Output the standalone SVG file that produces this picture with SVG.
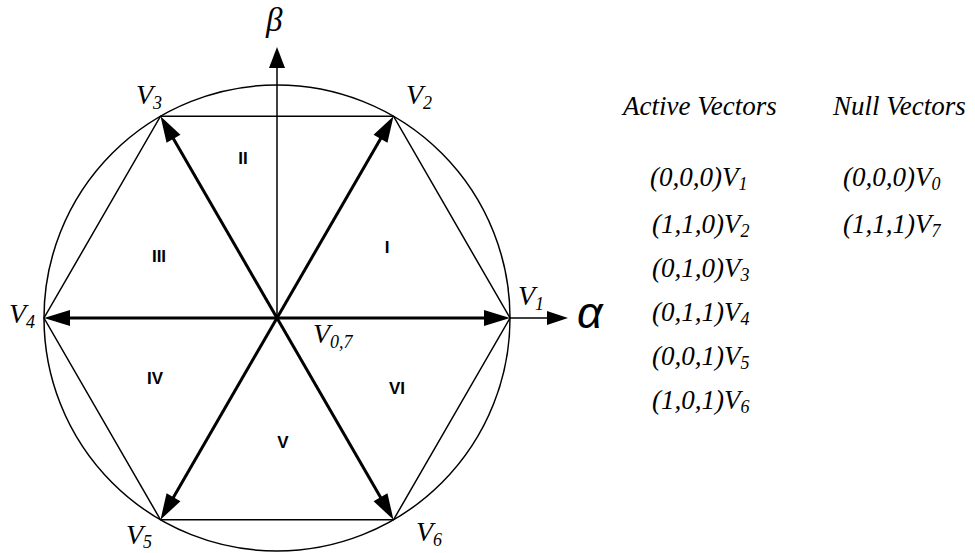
<svg xmlns="http://www.w3.org/2000/svg" width="975" height="553" viewBox="0 0 975 553">
<style>
.thin{fill:none;stroke:#000;stroke-width:1.5}
.bold{fill:none;stroke:#000;stroke-width:3;stroke-linecap:butt}
.vl{font-family:"Liberation Serif","Times New Roman",serif;font-style:italic;font-size:28px;fill:#000}
.tx{font-family:"Liberation Serif","Times New Roman",serif;font-style:italic;font-size:27px;fill:#000}
.sub{font-size:18px}
.rg{font-family:"Liberation Sans",Arial,sans-serif;font-weight:bold;font-size:17px;fill:#000;text-anchor:middle}
</style>
<defs>
<marker id="big" markerUnits="userSpaceOnUse" markerWidth="26" markerHeight="16" refX="16" refY="8" orient="auto" overflow="visible">
<path d="M0,0 L26,8 L0,16 z" fill="#000"/>
</marker>
<marker id="ax" markerUnits="userSpaceOnUse" markerWidth="21" markerHeight="16" refX="11" refY="8" orient="auto" overflow="visible">
<path d="M0,0 L21,8 L0,16 z" fill="#000"/>
</marker>
<marker id="axa" markerUnits="userSpaceOnUse" markerWidth="21" markerHeight="14" refX="11" refY="7" orient="auto" overflow="visible">
<path d="M0,0 L21,7 L0,14 z" fill="#000"/>
</marker>
</defs>
<rect width="975" height="553" fill="#fff"/>
<g id="circle"><circle class="thin" cx="277" cy="318" r="233"/></g>
<g id="hexagon"><polygon class="thin" points="510,318 393.5,116.2 160.5,116.2 44,318 160.5,519.8 393.5,519.8"/></g>
<g id="connectors">
<line class="thin" x1="277" y1="318" x2="277" y2="57" marker-end="url(#ax)"/>
<line class="thin" x1="510" y1="318" x2="558" y2="318" marker-end="url(#axa)"/>
<line class="bold" x1="277" y1="318" x2="500" y2="318" marker-end="url(#big)"/>
<line class="bold" x1="277" y1="318" x2="54" y2="318" marker-end="url(#big)"/>
<line class="bold" x1="277" y1="318" x2="388.5" y2="124.9" marker-end="url(#big)"/>
<line class="bold" x1="277" y1="318" x2="165.5" y2="124.9" marker-end="url(#big)"/>
<line class="bold" x1="277" y1="318" x2="165.5" y2="511.1" marker-end="url(#big)"/>
<line class="bold" x1="277" y1="318" x2="388.5" y2="511.1" marker-end="url(#big)"/>
</g>
<g id="axis-labels">
<text x="266" y="31" font-family="Liberation Serif,serif" font-style="italic" font-size="33">β</text>
<text x="577" y="328" font-family="Liberation Sans,sans-serif" font-style="italic" font-size="45">α</text>
</g>
<g id="vertex-labels">
<text class="vl" x="136" y="104">V<tspan class="sub" dy="5">3</tspan></text>
<text class="vl" x="406" y="104">V<tspan class="sub" dy="5">2</tspan></text>
<text class="vl" x="9" y="323">V<tspan class="sub" dy="5">4</tspan></text>
<text class="vl" x="518" y="305">V<tspan class="sub" dy="5">1</tspan></text>
<text class="vl" x="313" y="343" font-size="24">V<tspan class="sub" font-size="16" dy="5">0,7</tspan></text>
<text class="vl" x="126" y="544">V<tspan class="sub" dy="4">5</tspan></text>
<text class="vl" x="416" y="541">V<tspan class="sub" dy="5">6</tspan></text>
</g>
<g id="sectors">
<text class="rg" x="387" y="253">I</text>
<text class="rg" x="243" y="164">II</text>
<text class="rg" x="159" y="262">III</text>
<text class="rg" x="155" y="384">IV</text>
<text class="rg" x="283" y="448">V</text>
<text class="rg" x="397" y="394">VI</text>
</g>
<g id="table">
<text class="tx" x="623" y="115">Active Vectors</text>
<text class="tx" x="833" y="115">Null Vectors</text>
<text class="tx" x="650" y="186">(0,0,0)V<tspan class="sub" dy="4">1</tspan></text>
<text class="tx" x="652" y="233">(1,1,0)V<tspan class="sub" dy="4">2</tspan></text>
<text class="tx" x="652" y="277">(0,1,0)V<tspan class="sub" dy="4">3</tspan></text>
<text class="tx" x="652" y="321">(0,1,1)V<tspan class="sub" dy="4">4</tspan></text>
<text class="tx" x="652" y="365">(0,0,1)V<tspan class="sub" dy="4">5</tspan></text>
<text class="tx" x="652" y="409">(1,0,1)V<tspan class="sub" dy="4">6</tspan></text>
<text class="tx" x="843" y="186">(0,0,0)V<tspan class="sub" dy="4">0</tspan></text>
<text class="tx" x="843" y="233">(1,1,1)V<tspan class="sub" dy="4">7</tspan></text>
</g>
</svg>
